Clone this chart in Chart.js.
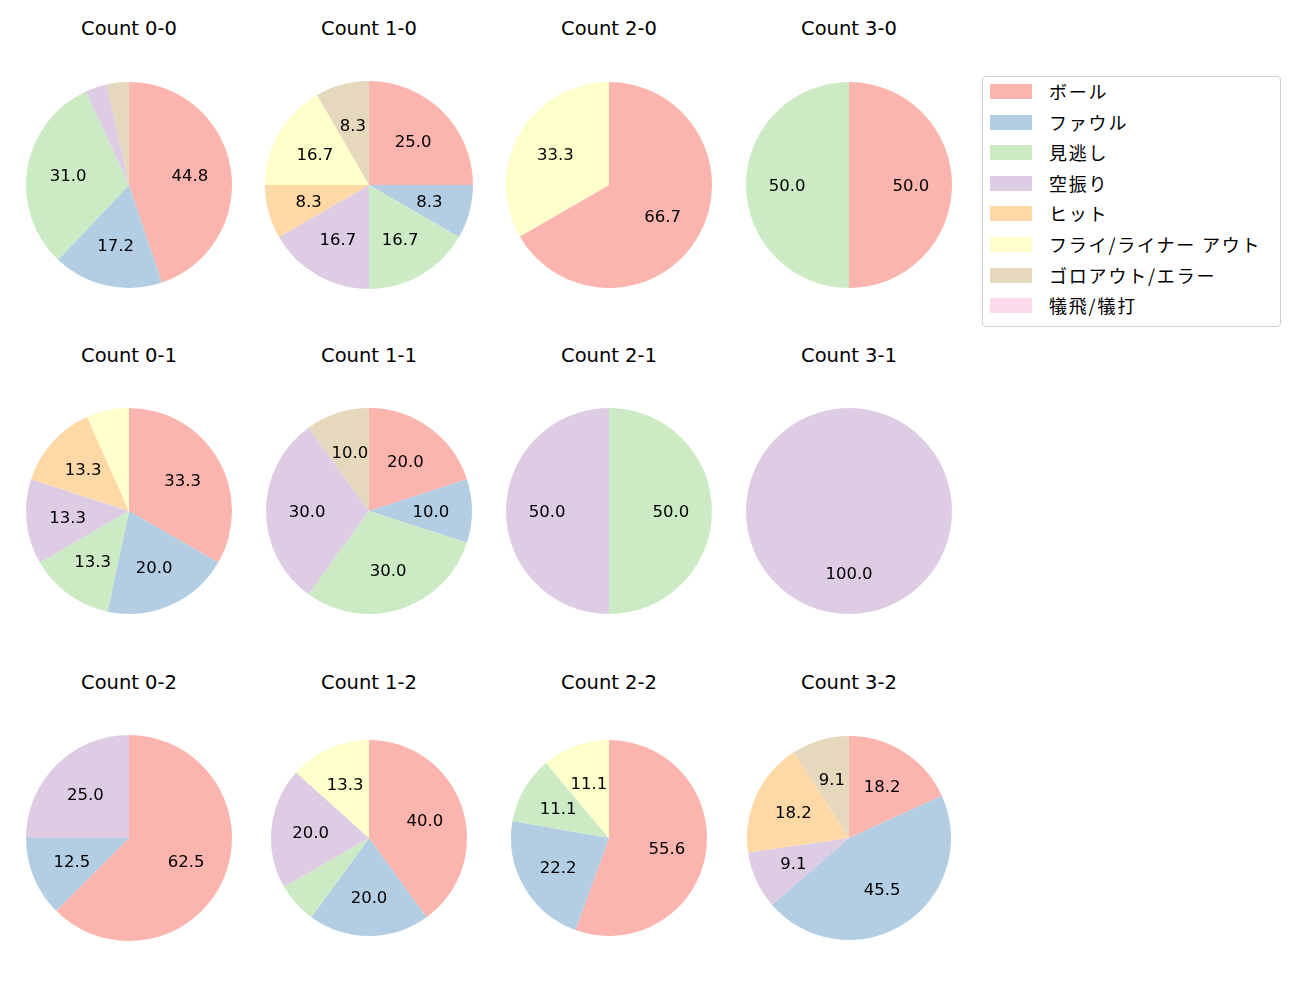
<!DOCTYPE html>
<html>
<head>
<meta charset="utf-8">
<script src="https://cdn.jsdelivr.net/npm/chart.js@4.4.0/dist/chart.umd.min.js"></script>
<style>
  body { margin: 0; background: #fff; font-family: "DejaVu Sans", "Noto Sans CJK JP", sans-serif; }
  #page { position: relative; width: 1300px; height: 1000px; }
  .pie { position: absolute; width: 230px; height: 230px; }
  .title { position: absolute; width: 240px; text-align: center; font-size: 19.5px; color: #000; line-height: 20px; }
  #legend { position: absolute; left: 982px; top: 76px; width: 297px; height: 249px;
    border: 1px solid #d0d0d0; border-radius: 4px; }
  .item { position: absolute; left: 0; height: 20px; font-family: "Noto Sans CJK JP", sans-serif;
    font-size: 18px; letter-spacing: 1.8px; line-height: 20px; color: #000; white-space: nowrap; }
  .swatch { position: absolute; left: 7px; top: 3px; width: 42px; height: 15px; }
  .label { position: absolute; left: 66px; top: 0; }
</style>
</head>
<body>
<div id="page"></div>
<script>
// categories and colours (Pastel1)
const categories = ['ボール', 'ファウル', '見逃し', '空振り', 'ヒット', 'フライ/ライナー アウト', 'ゴロアウト/エラー', '犠飛/犠打'];
const colors = ['#fbb4ae', '#b3cde3', '#ccebc5', '#decbe4', '#fed9a6', '#ffffcc', '#e5d8bd', '#fddaec'];

const titles = ['Count 0-0', 'Count 1-0', 'Count 2-0', 'Count 3-0',
                'Count 0-1', 'Count 1-1', 'Count 2-1', 'Count 3-1',
                'Count 0-2', 'Count 1-2', 'Count 2-2', 'Count 3-2'];

// pitch counts per category, in the order of categories
const count00 = [13, 5, 9, 1, 0, 0, 1, 0];
const count10 = [3, 1, 2, 2, 1, 2, 1, 0];
const count20 = [2, 0, 0, 0, 0, 1, 0, 0];
const count30 = [1, 0, 1, 0, 0, 0, 0, 0];
const count01 = [5, 3, 2, 2, 2, 1, 0, 0];
const count11 = [2, 1, 3, 3, 0, 0, 1, 0];
const count21 = [0, 0, 1, 1, 0, 0, 0, 0];
const count31 = [0, 0, 0, 1, 0, 0, 0, 0];
const count02 = [5, 1, 0, 2, 0, 0, 0, 0];
const count12 = [6, 3, 1, 3, 0, 2, 0, 0];
const count22 = [5, 2, 1, 0, 0, 1, 0, 0];
const count32 = [2, 5, 0, 1, 2, 0, 1, 0];

const allCounts = [count00, count10, count20, count30,
                   count01, count11, count21, count31,
                   count02, count12, count22, count32];

// layout
const colX = [129, 369, 609, 849];
const rowY = [185, 511, 838];
const titleY = [29, 356, 683];
const radii = [103, 104, 103, 103, 103, 103, 103, 103, 103, 98, 98, 102];
const BOX = 230;

// draws percentage text inside each slice, like autopct
const pctLabels = {
  id: 'pctLabels',
  afterDatasetsDraw(chart) {
    const ctx = chart.ctx;
    const values = chart.data.datasets[0].data;
    const total = values.reduce((a, b) => a + b, 0);
    ctx.save();
    ctx.font = '16.5px "DejaVu Sans"';
    ctx.fillStyle = '#000';
    ctx.textAlign = 'center';
    ctx.textBaseline = 'middle';
    chart.getDatasetMeta(0).data.forEach((arc, i) => {
      const pct = values[i] / total * 100;
      if (pct < 7) return;
      const p = arc.getProps(['x', 'y', 'startAngle', 'endAngle', 'outerRadius'], true);
      const mid = (p.startAngle + p.endAngle) / 2;
      const r = p.outerRadius * 0.6;
      ctx.fillText(pct.toFixed(1), p.x + Math.cos(mid) * r, p.y + Math.sin(mid) * r + 1.5);
    });
    ctx.restore();
  }
};

const page = document.getElementById('page');

allCounts.forEach((values, k) => {
  const col = k % 4, row = Math.floor(k / 4);
  const cx = colX[col], cy = rowY[row];

  const t = document.createElement('div');
  t.className = 'title';
  t.textContent = titles[k];
  t.style.left = (cx - 120) + 'px';
  t.style.top = (titleY[row] - 10) + 'px';
  page.appendChild(t);

  const box = document.createElement('div');
  box.className = 'pie';
  box.style.left = (cx - BOX / 2) + 'px';
  box.style.top = (cy - BOX / 2) + 'px';
  const canvas = document.createElement('canvas');
  canvas.width = BOX;
  canvas.height = BOX;
  box.appendChild(canvas);
  page.appendChild(box);

  new Chart(canvas.getContext('2d'), {
    type: 'pie',
    data: {
      labels: categories,
      datasets: [{
        data: values,
        backgroundColor: colors,
        borderWidth: 0
      }]
    },
    options: {
      responsive: false,
      animation: false,
      radius: radii[k],
      layout: { padding: 0 },
      plugins: {
        legend: { display: false },
        tooltip: { enabled: false }
      }
    },
    plugins: [pctLabels]
  });
});

// legend
const legend = document.createElement('div');
legend.id = 'legend';
categories.forEach((name, i) => {
  const item = document.createElement('div');
  item.className = 'item';
  item.style.top = (4 + i * 30.6) + 'px';
  const sw = document.createElement('div');
  sw.className = 'swatch';
  sw.style.background = colors[i];
  const lb = document.createElement('span');
  lb.className = 'label';
  lb.textContent = name;
  item.appendChild(sw);
  item.appendChild(lb);
  legend.appendChild(item);
});
page.appendChild(legend);
</script>
</body>
</html>
